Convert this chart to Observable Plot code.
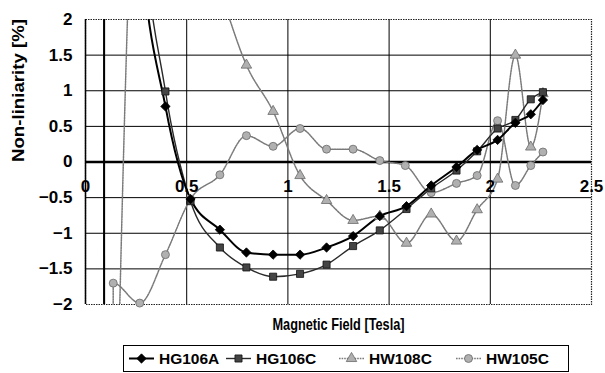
<!DOCTYPE html>
<html><head><meta charset="utf-8">
<script src="https://cdn.jsdelivr.net/npm/d3@7"></script>
<script src="https://cdn.jsdelivr.net/npm/@observablehq/plot@0.6"></script>
<style>
body{margin:0;background:#fff;font-family:"Liberation Sans",Arial,sans-serif;}
#chart{position:relative;width:605px;height:373px;overflow:hidden;}
#legend{position:absolute;left:123px;top:345px;width:446px;height:27px;border:1px solid #000;box-sizing:border-box;background:#fff;}
</style></head><body><div id="chart"></div>
<script>
// Field values [Tesla] (leading points lie far off the visible range)
const fieldHG  = [0.090, 0.094, 0.268, 0.395, 0.519, 0.664, 0.795, 0.927, 1.060, 1.191, 1.322, 1.454, 1.586, 1.708, 1.833, 1.935, 2.036, 2.124, 2.200, 2.260];
const hg106a   = [-300, 300, 3.3, 0.78, -0.52, -0.95, -1.27, -1.30, -1.30, -1.20, -1.04, -0.76, -0.62, -0.33, -0.07, 0.17, 0.31, 0.55, 0.67, 0.87];
const hg106c   = [-300, 300, 4.0, 0.99, -0.55, -1.20, -1.48, -1.61, -1.57, -1.44, -1.18, -0.96, -0.66, -0.37, -0.12, 0.15, 0.47, 0.59, 0.88, 0.98];
const fieldHW8 = [0.137, 0.268, 0.395, 0.519, 0.664, 0.795, 0.927, 1.060, 1.191, 1.322, 1.454, 1.586, 1.708, 1.833, 1.935, 2.036, 2.124, 2.200, 2.260];
const hw108c   = [-6.0, 5.0, 4.5, 3.5, 2.4, 1.36, 0.71, -0.19, -0.54, -0.82, -0.76, -1.14, -0.73, -1.11, -0.67, -0.24, 1.50, 0.21, 0.96];
const fieldHW5 = [0.130, 0.137, 0.268, 0.395, 0.519, 0.664, 0.795, 0.927, 1.060, 1.191, 1.322, 1.454, 1.580, 1.708, 1.833, 1.935, 2.036, 2.124, 2.200, 2.260];
const hw105c   = [-300, -1.70, -1.98, -1.30, -0.52, -0.18, 0.37, 0.22, 0.47, 0.18, 0.18, 0.02, -0.05, -0.43, -0.30, -0.19, 0.58, -0.33, -0.05, 0.14];

const seriesNames = ["HG106A", "HG106C", "HW108C", "HW105C"];
const xTicks = [0, 0.5, 1, 1.5, 2, 2.5];
const xTickLabels = ["0", "0.5", "1", "1.5", "2", "2.5"];
const yTicks = [-2, -1.5, -1, -0.5, 0, 0.5, 1, 1.5, 2];
const yTickLabels = ["\u22122", "\u22121.5", "\u22121", "\u22120.5", "0", "0.5", "1", "1.5", "2"];
const xTitle = "Magnetic Field [Tesla]";
const yTitle = "Non-liniarity [%]";

const mk = (xs, ys) => xs.map((x, i) => ({x, y: ys[i]}));
const dA = mk(fieldHG, hg106a), dC = mk(fieldHG, hg106c), d8 = mk(fieldHW8, hw108c), d5 = mk(fieldHW5, hw105c);
const vis = d => d.y >= -2.1 && d.y <= 2.1;

const styles = {
  HG106A: {line: {stroke: "#000", strokeWidth: 2}, dot: {symbol: "diamond2", fill: "#000", stroke: "#000", r: 4.2}},
  HG106C: {line: {stroke: "#2a2a2a", strokeWidth: 1.4}, dot: {symbol: "square", fill: "#444", stroke: "#111", r: 4.0}},
  HW108C: {line: {stroke: "#7a7a7a", strokeWidth: 1.5, strokeDasharray: "1.6,1"}, dot: {symbol: "triangle", fill: "#b0b0b0", stroke: "#6a6a6a", r: 3.9}},
  HW105C: {line: {stroke: "#7a7a7a", strokeWidth: 1.5, strokeDasharray: "1.6,1"}, dot: {symbol: "circle", fill: "#b0b0b0", stroke: "#6a6a6a", r: 4.0}}
};
const sets = {HG106A: dA, HG106C: dC, HW108C: d8, HW105C: d5};

const lineMarks = [], dotMarks = [];
for (const name of ["HW105C", "HW108C", "HG106C", "HG106A"]) {
  lineMarks.push(Plot.line(sets[name], {x: "x", y: "y", curve: "monotone-x", clip: true, ...styles[name].line}));
  dotMarks.push(Plot.dot(sets[name].filter(vis), {x: "x", y: "y", strokeWidth: 0.8, ...styles[name].dot}));
}

const chart = Plot.plot({
  width: 605, height: 343,
  marginLeft: 85, marginRight: 14, marginTop: 19, marginBottom: 39,
  x: {domain: [0, 2.5], axis: null},
  y: {domain: [-2, 2], axis: null},
  style: {fontFamily: "'Liberation Sans', Arial, sans-serif", background: "#fff", color: "#000", overflow: "visible"},
  marks: [
    Plot.ruleY(yTicks.filter(v => Math.abs(v) > 0 && Math.abs(v) < 2), {stroke: "#000", strokeWidth: 1}),
    Plot.ruleX(xTicks.filter(v => v > 0 && v < 2.5), {stroke: "#000", strokeWidth: 1}),
    Plot.frame({stroke: "#222", strokeWidth: 1.2, strokeDasharray: "1.5,1"}),
    Plot.ruleX([0], {stroke: "#000", strokeWidth: 1.5}),
    Plot.ruleY([0], {stroke: "#000", strokeWidth: 2.6}),
    ...lineMarks,
    ...dotMarks,
    Plot.text(xTicks, {x: d => d, y: () => 0, text: (d, i) => xTickLabels[i], dy: 25, fontSize: 17, fontWeight: "bold"}),
    Plot.text(yTicks, {x: () => 0, y: d => d, text: (d, i) => yTickLabels[i], dx: -13, textAnchor: "end", fontSize: 17, fontWeight: "bold"}),
    Plot.text([xTitle], {frameAnchor: "bottom", dy: 25, fontSize: 17, fontWeight: "bold", className: "xt"}),
    Plot.text([yTitle], {frameAnchor: "left", dx: -67, rotate: -90, fontSize: 16.5, fontWeight: "bold", className: "yt"})
  ]
});
document.getElementById("chart").appendChild(chart);
d3.select(chart).selectAll(".xt text").attr("textLength", 132).attr("lengthAdjust", "spacingAndGlyphs");
d3.select(chart).selectAll(".yt text").attr("textLength", 143).attr("lengthAdjust", "spacingAndGlyphs");

// Legend (HTML box below the SVG)
const leg = document.createElement("div");
leg.id = "legend";
const lsvg = d3.create("svg").attr("width", 444).attr("height", 25).style("display", "block");
const legX = [5, 102, 215, 332];
seriesNames.forEach((name, i) => {
  const s = styles[name], x0 = legX[i], cy = 12.5;
  lsvg.append("line").attr("x1", x0).attr("x2", x0 + 25).attr("y1", cy).attr("y2", cy)
    .attr("stroke", s.line.stroke).attr("stroke-width", s.line.strokeWidth).attr("stroke-dasharray", s.line.strokeDasharray || null);
  const sym = {diamond2: d3.symbolDiamond2, square: d3.symbolSquare, triangle: d3.symbolTriangle, circle: d3.symbolCircle}[s.dot.symbol];
  lsvg.append("path").attr("d", d3.symbol(sym, Math.PI * s.dot.r * s.dot.r)()).attr("transform", `translate(${x0 + 12.5},${cy})`)
    .attr("fill", s.dot.fill).attr("stroke", s.dot.stroke).attr("stroke-width", 0.8);
  lsvg.append("text").attr("x", x0 + 30).attr("y", cy).attr("dy", "0.36em").attr("font-size", 15.5).attr("font-weight", "bold")
    .attr("font-family", "'Liberation Sans', Arial, sans-serif").text(name);
});
leg.appendChild(lsvg.node());
document.getElementById("chart").appendChild(leg);
</script></body></html>
